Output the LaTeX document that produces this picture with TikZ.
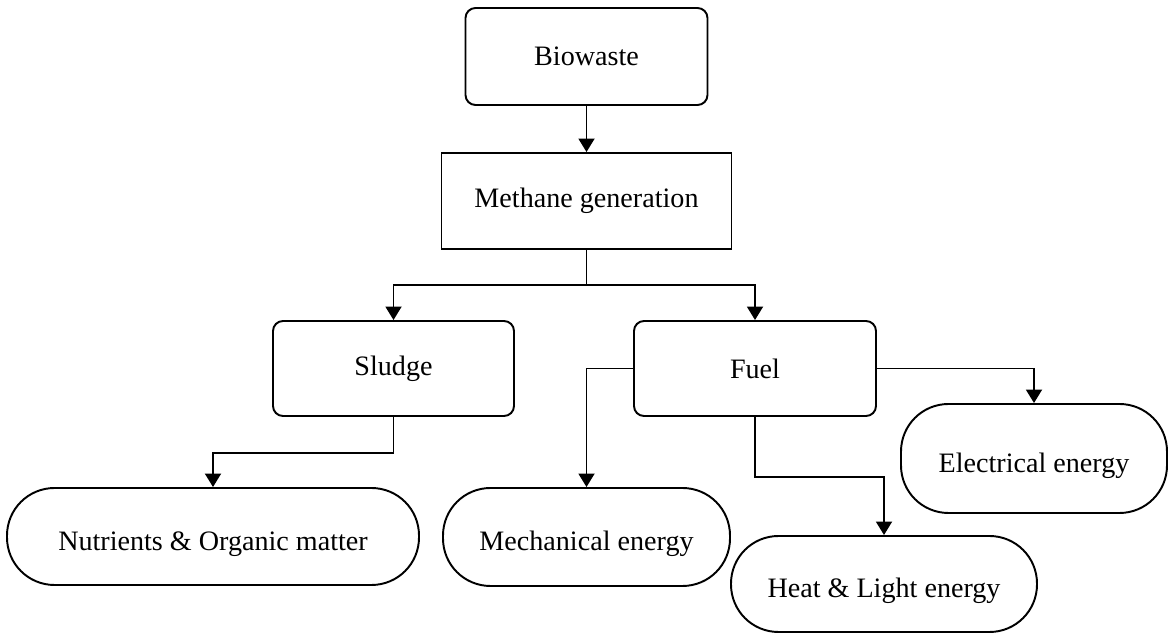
\documentclass[tikz,border=0pt]{standalone}
\usepackage{fontspec}
\setmainfont{Liberation Serif}
\usepackage{tikz}
\usetikzlibrary{shapes,arrows.meta,positioning,calc}

\begin{document}
\begin{tikzpicture}[
  line width=1.1pt,
  >={Triangle[length=0.27cm,width=0.32cm]},
  every node/.style={font=\fontsize{16}{19}\selectfont},
  process/.style={rectangle, draw, minimum height=1.92cm, align=center, inner sep=0pt},
  roundbox/.style={process, rounded corners=0.2cm},
  output/.style={process, rounded corners=0.95cm, text height=0.7cm, text depth=0.15cm}
]

% Frame
\useasboundingbox (0,0) rectangle (23.44,12.68);

% Source and digestion
\node[roundbox, minimum width=4.84cm, minimum height=1.94cm] (bio) at (11.73,11.55) {Biowaste};
\node[process, minimum width=5.8cm] (methane) at (11.73,8.66) {Methane generation};

% Products
\node[roundbox, minimum width=4.82cm, minimum height=1.9cm] (sludge) at (7.87,5.31) {Sludge};
\node[roundbox, minimum width=4.84cm, minimum height=1.9cm] (fuel) at (15.1,5.31) {Fuel};

% Uses
\node[output, minimum width=8.24cm, minimum height=1.94cm] (nutrients) at (4.26,1.95) {Nutrients \& Organic matter};
\node[output, minimum width=5.74cm, minimum height=1.96cm] (mech) at (11.73,1.94) {Mechanical energy};
\node[output, minimum width=6.12cm] (heat) at (17.68,1.0) {Heat \& Light energy};
\node[output, minimum width=5.32cm, minimum height=2.18cm] (elec) at (20.68,3.51) {Electrical energy};

% Connections
\draw[->] (bio) -- (methane);
\draw[->] (methane.south) -- ++(0,-0.7) coordinate (split) -| (sludge.north);
\draw[->] (split) -| (fuel.north);

\draw[->] (sludge.south) -- ++(0,-0.72) -| (nutrients.north);
\draw[->] (fuel.west) -| (mech.north);
\draw[->] (fuel.south) -- ++(0,-1.2) -| (heat.north);
\draw[->] (fuel.east) -| (elec.north);

\end{tikzpicture}
\end{document}
